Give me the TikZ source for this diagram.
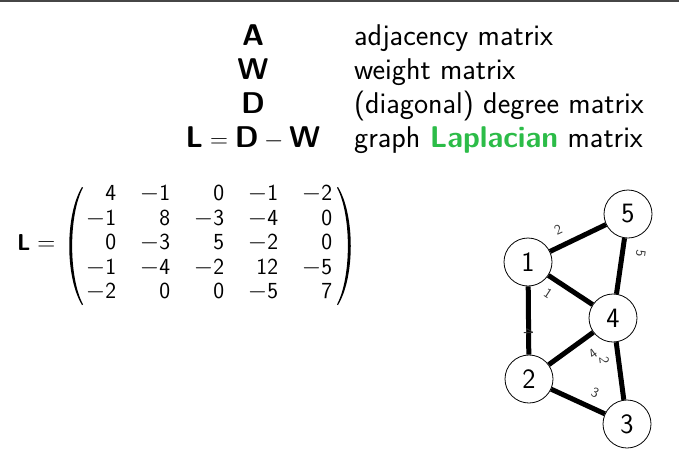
\documentclass[tikz,border=0pt]{standalone}
\usetikzlibrary{matrix}
\definecolor{lapgreen}{RGB}{44,188,72}
\definecolor{rulegray}{RGB}{70,70,70}
\begin{document}
\begin{tikzpicture}[x=1pt,y=-1pt,
  hdr/.style={font=\sffamily\fontsize{30}{34}\selectfont, inner sep=0pt},
  entry/.style={font=\sffamily\fontsize{23}{25}\selectfont, inner sep=0pt, anchor=base east},
  vtx/.style={circle, draw, line width=0.8pt, minimum size=48pt, inner sep=0pt, fill=white,
              font=\sffamily\fontsize{28}{30}\selectfont},
  wedge/.style={line width=5pt},
  wlab/.style={font=\sffamily\fontsize{14}{15}\selectfont, sloped, allow upside down,
               inner sep=0pt, text=black!80},
  paren/.style={fill=black}
]
\useasboundingbox (0,0) rectangle (679,453);
\fill[white] (0,0) rectangle (679,453);
\draw[rulegray, line width=1.6pt] (0,0.8) -- (679,0.8);

% notation table
\node[hdr, anchor=base] (symA) at (253,45) {\bfseries A};
\node[hdr, anchor=base west] (txtA) at (354,45) {adjacency matrix};
\node[hdr, anchor=base] (symW) at (253,79) {\bfseries W};
\node[hdr, anchor=base west] (txtW) at (354,79) {weight matrix};
\node[hdr, anchor=base] (symD) at (253,113) {\bfseries D};
\node[hdr, anchor=base west] (txtD) at (354,113) {(diagonal) degree matrix};
\node[hdr, anchor=base] (symL) at (253,147) {$\textbf{L}=\textbf{D}-\textbf{W}$};
\node[hdr, anchor=base west] (txtL) at (354,147) {graph {\bfseries\color{lapgreen}Laplacian} matrix};

% Laplacian matrix
\matrix (Lmat) [matrix of nodes, nodes={entry},
  column sep={54pt,between origins}, row sep={24.5pt,between origins},
  anchor=center] at (209,243)
{
  4 & $-$1 & 0 & $-$1 & $-$2 \\
  $-$1 & 8 & $-$3 & $-$4 & 0 \\
  0 & $-$3 & 5 & $-$2 & 0 \\
  $-$1 & $-$4 & $-$2 & 12 & $-$5 \\
  $-$2 & 0 & 0 & $-$5 & 7 \\
};
% round brackets around the matrix
\fill[paren] (82,187) .. controls (65,215) and (65,277) .. (82,305)
  -- (83,304.5) .. controls (68.5,277) and (68.5,215) .. (83,187.5) -- cycle;
\fill[paren] (338,187) .. controls (355,215) and (355,277) .. (338,305)
  -- (337,304.5) .. controls (351.5,277) and (351.5,215) .. (337,187.5) -- cycle;
\node[font=\sffamily\fontsize{23}{25}\selectfont, inner sep=0pt, anchor=base west] (Leq) at (17,250)
  {$\textbf{L}=$};

% weighted graph
\node[vtx] (n1) at (528,262) {1};
\node[vtx] (n5) at (628,214) {5};
\node[vtx] (n4) at (613,318) {4};
\node[vtx] (n2) at (529,379) {2};
\node[vtx] (n3) at (627,424) {3};

\draw[wedge] (n1) -- node[wlab, above=9pt, pos=0.27] {2} (n5);
\draw[wedge] (n5) -- node[wlab, above=11pt, pos=0.23] {5} (n4);
\draw[wedge] (n1) -- node[wlab, below=8pt, pos=0.18] {1} (n4);
\draw[wedge] (n1) -- node[wlab, below=-7pt, pos=0.67] {4} (n2);
\draw[wedge] (n2) -- node[wlab, below=10pt, pos=0.77] {4} (n4);
\draw[wedge] (n4) -- node[wlab, below=7pt, pos=0.28] {2} (n3);
\draw[wedge] (n2) -- node[wlab, above=8pt, pos=0.70] {3} (n3);
\end{tikzpicture}
\end{document}
